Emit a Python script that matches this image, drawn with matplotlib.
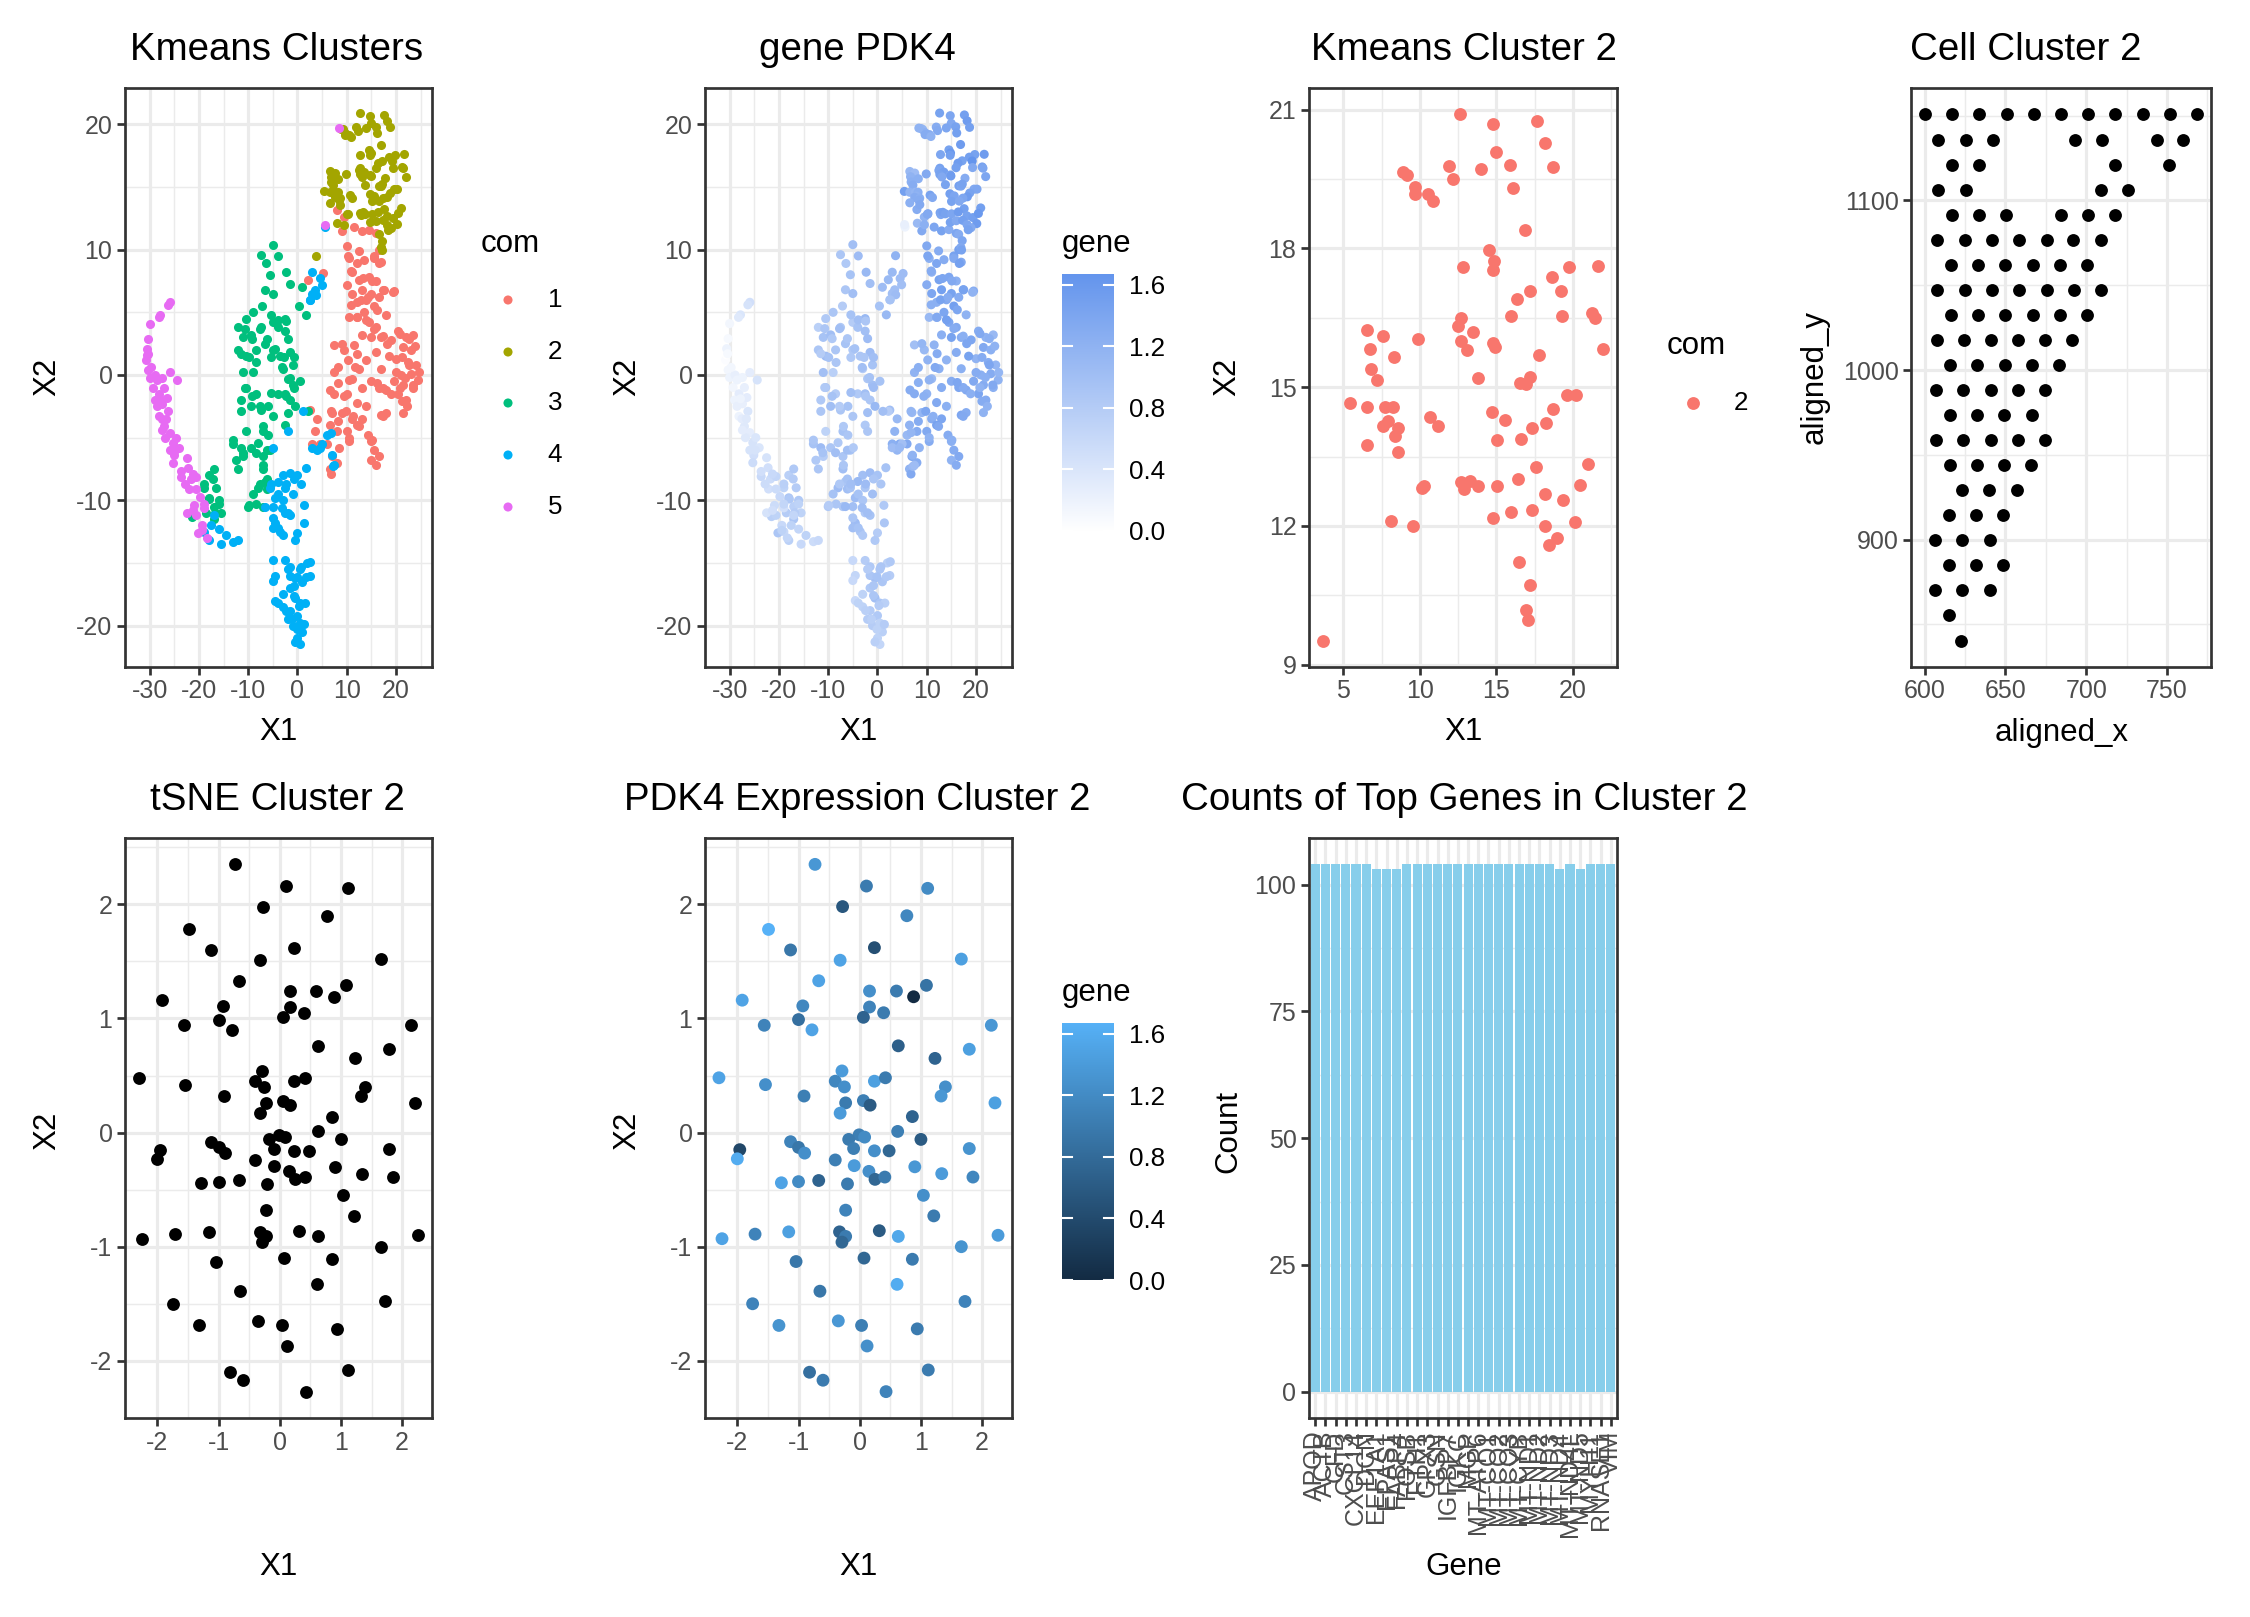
import numpy as np
import matplotlib
matplotlib.use("Agg")
import matplotlib.pyplot as plt
from matplotlib.colors import LinearSegmentedColormap

plt.rcParams['font.family'] = ['Liberation Sans', 'DejaVu Sans']
plt.rcParams['axes.unicode_minus'] = False

# ---- data: tSNE embedding, (X1, X2, PDK4) per kmeans cluster ----
c1 = [(8.0,13.2,1.3),(9.5,12.6,1.2),(9.0,11.5,1.35),(11.5,11.8,1.4),(13.0,11.5,1.45),(14.5,11.6,1.3),(16.0,11.3,1.4),
      (10.0,10.3,1.35),(10.5,9.3,1.25),(12.0,8.9,1.4),(13.5,9.2,1.3),(15.5,9.5,1.45),(17.0,9.0,1.35),(16.5,10.0,1.5),
      (11.0,8.2,1.2),(10.0,7.2,1.3),(12.5,7.6,1.45),(14.5,7.8,1.4),(16.0,7.5,1.25),(17.5,6.8,1.35),(19.5,6.7,1.3),
      (11.0,6.5,1.4),(13.0,6.8,1.5),(14.0,6.0,1.35),(15.0,6.5,1.45),(16.5,6.2,1.3),(12.0,5.8,1.25),(13.5,5.0,1.4),
      (15.5,5.5,1.5),(18.0,4.8,1.2),(10.5,4.6,1.1),(12.0,4.6,1.3),(14.5,4.2,1.4),(16.0,3.8,1.35),(13.0,3.2,1.25),
      (15.0,3.0,1.45),(17.0,3.0,1.3),(19.0,2.8,1.4),(11.5,2.4,1.2),(9.5,2.0,1.1),(7.5,2.4,1.0),
      (20.5,3.5,1.3),(22.0,3.0,1.2),(23.5,3.2,1.1),(21.5,2.2,1.35),(23.0,2.0,1.25),(20.0,1.3,1.2),(22.5,1.0,1.3),
      (24.0,0.8,1.15),(21.0,0.0,1.25),(23.0,0.1,1.3),(24.5,-0.4,1.2),(19.5,-0.5,1.35),(21.5,-0.8,1.3),(23.5,-1.0,1.25),
      (20.5,-1.5,1.4),(22.0,-2.0,1.3),(18.0,-1.2,1.35),(16.5,-1.0,1.4),(15.0,-0.5,1.3),(17.0,0.5,1.25),(18.5,1.5,1.45),
      (16.0,1.8,1.3),(14.0,1.2,1.2),(12.5,0.5,1.25),(11.0,-0.3,1.1),(13.0,-1.0,1.3),(10.0,-1.5,1.2),(12.0,-2.2,1.35),
      (14.0,-2.5,1.25),(17.0,-3.2,1.4),(18.0,-3.0,1.3),(21.5,-3.0,1.2),(9.0,-3.0,1.15),(7.0,-3.0,1.1),(11.0,-3.5,1.3),
      (13.0,-3.5,1.4),(6.5,-4.0,1.2),(8.0,-4.5,1.3),(10.0,-4.5,1.35),(12.0,-4.0,1.45),(4.0,-3.5,1.1),(3.5,-4.5,1.2),
      (2.5,-2.8,1.0),(4.5,-5.5,1.3),(3.0,-5.5,1.25),(6.0,-5.5,1.35),(8.5,-5.8,1.2),(10.5,-5.3,1.3),(7.0,-6.5,1.4),
      (8.0,-7.0,1.3),(6.5,-7.5,1.2),(6.8,-7.9,1.35),(15.0,-5.3,1.25),(15.5,-6.0,1.3),(16.5,-6.5,1.35),(15.0,-6.8,1.2),
      (16.0,-7.2,1.3),(2.2,7.6,1.1),(5.2,8.1,1.05),(7.5,0.2,1.2),(6.6,-1.2,1.3),(8.3,-0.6,1.25),
      (10.2,9.5,1.4),(12.4,9.9,1.3),(15.5,9.3,1.35),(16.6,8.9,1.5),(10.9,8.3,1.3),(13.2,7.7,1.4),(15.1,7.5,1.35),
      (17.4,6.8,1.45),(19.3,6.6,1.2),(10.9,5.6,1.25),(12.8,6.0,1.45),(14.3,6.2,1.3),(16.2,5.2,1.4),(12.1,4.6,1.35),
      (14.0,4.4,1.5),(15.5,3.7,1.3),(17.4,3.1,1.25),(18.1,2.5,1.4),(9.0,2.5,1.15),(12.1,1.7,1.3),(10.2,1.2,1.2),
      (8.3,0.6,1.25),(11.7,0.6,1.35),(10.5,-0.4,1.2),(7.5,-1.5,1.3),(9.4,-1.7,1.25),(6.8,-2.9,1.15),(8.3,-3.7,1.3),
      (9.8,-2.9,1.4),(11.3,-3.3,1.25),(12.4,-4.1,1.35),(10.5,-5.0,1.2),(14.3,-4.8,1.3),(15.1,-5.2,1.25),
      (20.8,3.3,1.35),(22.7,2.9,1.25),(23.8,2.3,1.2),(21.2,1.4,1.3),(22.7,0.8,1.4),(24.6,0.2,1.15),(20.0,0.2,1.3),
      (21.9,-0.2,1.25),(23.4,-0.8,1.35),(20.8,-1.0,1.2),(17.4,-1.0,1.3),(16.2,-0.6,1.4),(18.9,-1.5,1.25),
      (21.2,-2.1,1.3),(22.3,-2.5,1.2),(17.4,-3.3,1.35)]

c2 = [(12.61,20.90,1.45),(14.77,20.69,1.40),(17.64,20.75,1.50),(18.19,20.28,1.55),(14.97,20.08,1.35),
      (11.93,19.78,1.30),(15.88,19.80,1.45),(18.69,19.76,1.50),(8.87,19.66,1.20),(9.17,19.59,1.15),
      (13.97,19.71,1.40),(12.19,19.50,1.35),(16.08,19.31,1.50),(9.67,19.33,1.25),(9.67,19.18,1.30),
      (10.55,19.18,1.30),(10.85,19.03,1.20),(16.86,18.39,1.55),(14.50,17.96,1.45),(14.82,17.72,1.60),
      (14.75,17.53,1.50),(12.79,17.59,1.40),(19.75,17.59,1.45),(21.66,17.61,1.55),(18.64,17.38,1.50),
      (17.19,17.09,1.45),(19.22,17.07,1.67),(16.33,16.90,1.55),(12.66,16.50,1.45),(12.46,16.32,1.40),
      (15.95,16.54,1.50),(19.30,16.55,1.35),(21.26,16.60,1.45),(21.41,16.50,1.40),(6.56,16.24,1.10),
      (7.56,16.11,1.05),(9.90,16.04,1.35),(13.47,16.19,1.50),(12.66,16.00,1.45),(14.77,15.96,1.40),
      (14.90,15.88,1.55),(6.71,15.82,1.20),(13.07,15.80,1.35),(8.29,15.66,1.25),(17.76,15.70,1.30),
      (21.96,15.83,1.40),(6.83,15.40,1.25),(7.19,15.15,1.30),(13.79,15.19,1.45),(16.53,15.09,1.50),
      (16.96,15.07,1.40),(17.21,15.23,1.45),(19.60,14.83,1.35),(20.20,14.83,1.40),(5.45,14.65,1.50),
      (6.56,14.58,1.20),(7.69,14.58,1.15),(8.24,14.58,1.25),(7.89,14.28,1.20),(7.56,14.17,1.30),
      (8.57,14.11,1.25),(8.39,13.95,1.30),(8.59,13.59,1.35),(6.56,13.74,1.25),(10.68,14.35,1.45),
      (11.16,14.16,1.35),(14.70,14.46,1.50),(15.58,14.29,1.40),(18.72,14.52,1.45),(18.24,14.22,1.55),
      (17.34,14.11,1.40),(15.03,13.85,1.45),(16.61,13.87,1.35),(17.59,13.27,1.50),(20.95,13.33,1.50),
      (10.25,12.87,1.40),(10.13,12.82,1.35),(12.71,12.95,1.45),(12.86,12.80,1.40),(13.27,12.98,1.50),
      (13.77,12.86,1.45),(15.03,12.86,1.40),(16.41,13.01,1.55),(18.14,12.70,1.45),(19.37,12.56,1.50),
      (20.48,12.89,1.60),(8.09,12.11,1.10),(9.52,11.99,1.25),(14.77,12.18,1.45),(15.98,12.31,1.35),
      (17.29,12.34,1.50),(18.17,12.00,1.40),(20.15,12.08,1.55),(18.97,11.75,1.35),(18.42,11.59,1.45),
      (16.48,11.23,1.30),(17.19,10.72,1.40),(16.93,10.18,1.35),(17.06,9.97,1.45),(3.67,9.52,1.20)]

c3 = [(-7.5,9.6,0.9),(-5.0,10.4,1.0),(-3.9,9.5,1.05),(-6.4,8.9,0.85),(-5.5,8.0,0.95),(-2.3,8.2,1.1),(-1.5,7.3,1.0),
      (1.0,7.0,1.05),(-6.5,6.8,0.9),(-5.0,6.5,1.0),(0.4,5.5,0.95),(1.8,4.8,1.1),(-7.1,5.5,0.8),
      (-10.5,4.5,0.85),(-9.0,5.0,0.9),(-12.0,3.8,0.75),(-11.0,3.0,0.95),(-9.5,3.2,1.0),(-7.5,3.8,0.85),(-12.0,2.0,0.9),
      (-10.5,1.5,1.05),(-8.5,2.0,0.9),(-6.5,2.5,0.95),(-5.0,4.2,0.8),(-4.0,3.8,0.95),(-2.5,4.5,1.1),(-2.5,3.5,1.0),
      (-5.0,2.0,0.85),(-3.5,1.5,0.9),(-1.5,1.8,1.05),(-1.0,0.8,0.95),(-3.0,0.5,0.8),(-11.0,0.2,1.0),(-9.0,0.2,0.75),
      (-2.0,-0.3,0.9),(-1.0,-0.8,1.0),(0.5,-0.5,0.95),(-4.0,-1.5,0.85),(-2.5,-1.5,1.0),(-1.5,-2.0,0.9),(-0.5,-2.5,1.1),
      (-10.5,-1.0,0.9),(-8.5,-1.5,0.8),(-11.5,-2.0,0.85),(-9.5,-2.5,1.0),(-7.5,-2.8,0.9),(-6.0,-2.5,0.95),(-2.0,-3.0,1.0),
      (-2.5,-4.0,0.85),(-10.5,-4.5,0.7),(-7.0,-4.5,0.95),(-6.0,-4.8,0.9),(-13.0,-5.5,0.95),(-11.5,-5.8,1.05),(-9.5,-5.8,0.9),
      (-12.5,-6.8,0.85),(-11.0,-6.5,0.8),(-8.5,-6.2,1.0),(-7.0,-6.5,0.9),(-5.5,-6.0,0.95),(-12.0,-7.5,0.9),(-7.0,-7.5,1.0),
      (-6.5,-8.5,0.9),(-8.0,-9.0,1.05),(-9.0,-9.5,0.95),(-10.0,-10.5,0.85),(-7.0,-10.5,0.9),(2.2,-2.9,0.8),
      (-18.0,-8.0,0.75),(-17.0,-7.5,0.85),(-19.0,-9.0,0.7),(-16.5,-9.0,0.8),(-18.0,-9.8,0.9),(-17.0,-10.5,0.75),
      (-16.0,-10.0,0.85),(-15.5,-11.0,0.7),(-18.5,-11.0,0.8),(-17.0,-11.5,0.9),(-21.5,-11.3,0.75),
      (-10.7,3.7,0.9),(-9.2,2.9,0.85),(-7.7,3.7,1.0),(-6.1,2.9,0.9),(-4.6,2.1,0.95),(-5.4,1.4,0.85),(-11.5,1.7,0.8),
      (-9.9,1.4,0.95),(-8.4,1.0,0.9),(-3.1,0.6,1.0),(-1.6,-0.2,0.95),(-0.8,-1.0,1.05),(-2.4,-1.7,0.9),(-10.7,-1.0,0.85),
      (-9.2,-1.7,0.95),(-7.7,-2.5,0.8),(-11.5,-2.9,0.9),(-5.4,-1.4,1.0),(-5.0,-3.3,0.9),(-6.9,-4.1,0.85),
      (-13.0,-5.2,0.9),(-11.1,-6.2,0.95),(-8.0,-5.4,0.85),(-6.1,-6.0,1.0),(-6.9,-7.2,0.9),(-6.1,-8.3,0.95),
      (-7.7,-8.7,0.85),(-8.4,-10.3,0.9),(-9.9,-10.4,0.8),(-6.1,-9.1,1.0),(-5.4,4.8,0.95),(-3.9,4.4,1.0),
      (-2.4,4.3,0.9),(-2.0,2.9,1.05),(-2.7,1.4,0.9),(-0.8,1.4,1.0),
      (-19.0,-8.7,0.75),(-17.1,-8.3,0.8),(-17.9,-9.9,0.85),(-16.0,-10.3,0.7),(-16.8,-11.0,0.8)]

c4 = [(3.0,8.2,1.1),(3.5,6.8,1.0),(4.6,7.7,1.05),(2.5,6.0,0.95),(3.0,6.5,1.0),(5.6,11.8,0.2),
      (1.1,-2.9,1.0),(-2.0,-4.5,0.9),(-4.9,-5.8,0.85),
      (6.0,-4.8,1.1),(5.0,-5.5,1.0),(4.0,-6.0,1.15),(3.0,-5.8,1.05),(7.1,-6.4,1.2),(7.2,-7.3,1.1),
      (1.7,-7.4,0.95),(0.7,-8.7,0.9),(1.3,-10.4,0.85),(1.4,-11.8,0.9),(0.0,-12.6,0.8),(-0.5,-13.2,0.85),
      (-3.0,-8.0,1.0),(-1.5,-7.8,1.05),(0.0,-8.0,0.95),(-4.0,-8.5,1.1),(-2.5,-9.0,0.9),(-1.0,-9.5,1.0),(-5.5,-9.0,0.95),
      (-4.5,-9.8,1.05),(-3.0,-10.0,0.9),(-5.0,-10.5,1.0),(-2.5,-11.0,0.85),(-1.5,-11.2,0.95),(-4.5,-11.8,1.05),
      (-3.5,-12.5,0.9),(-5.0,-12.2,1.0),(-3.0,-12.8,0.85),(-6.5,-10.5,1.1),
      (-5.0,-14.8,0.6),(-4.5,-16.0,0.65),(-2.5,-14.8,0.8),(-1.5,-15.3,0.85),(0.5,-15.5,0.9),(2.0,-15.0,0.75),
      (2.5,-16.0,0.8),(-0.5,-16.2,1.0),(1.0,-16.5,0.9),(-1.5,-17.0,0.85),(-3.0,-17.5,0.7),(-0.5,-17.8,1.0),
      (0.5,-18.2,0.9),(-4.5,-18.0,0.6),(-3.0,-18.5,0.7),(-1.5,-18.8,0.8),(0.0,-19.2,0.85),(1.5,-18.2,0.75),
      (-1.0,-20.0,0.8),(0.5,-19.8,0.7),(1.0,-20.5,0.75),(0.0,-21.0,0.7),(0.5,-21.5,0.65),(-0.5,-21.3,0.75),
      (-2.0,-19.5,0.8),(-1.5,-16.0,0.9),
      (-19.0,-12.5,0.6),(-17.5,-12.0,0.7),(-16.0,-12.3,0.65),(-18.0,-13.2,0.75),(-15.5,-13.5,0.6),(-13.0,-13.3,0.55),
      (-12.0,-13.2,0.6),(-14.5,-12.8,0.7),(-17.0,-11.2,0.65),
      (-5.4,-8.7,1.0),(-3.9,-9.5,0.95),(-2.4,-8.7,1.05),(-0.8,-8.3,0.9),(-3.1,-10.6,1.0),(-5.0,-11.4,0.9),
      (-3.9,-12.2,0.95),(-2.0,-11.0,1.0),(-5.0,-16.4,0.6),(-3.9,-18.2,0.7),(-2.4,-18.8,0.75),(-0.8,-17.6,0.9),
      (0.3,-18.4,0.8),(-1.2,-19.5,0.75),(-0.1,-20.3,0.7),(1.4,-19.9,0.8),(0.7,-15.3,0.9),(2.6,-14.9,0.85),
      (-2.0,-15.5,0.8),(-0.1,-16.1,0.95),(1.8,-16.1,0.85),(-0.8,-16.8,0.9),
      (4.9,7.2,1.0),(3.7,6.4,1.05),(2.6,6.0,0.95),(4.5,-5.8,1.1),(6.8,-4.6,1.15),(7.5,-7.2,1.05)]

c5 = [(-25.9,5.8,0.5),(-26.3,5.6,0.45),(-27.8,4.8,0.4),(-28.2,4.6,0.35),(-30.0,4.1,0.15),(-30.3,2.9,0.1),(-30.6,2.1,0.2),
      (-30.8,1.2,0.05),(-30.6,1.6,0.0),(-30.3,0.4,0.15),(-30.0,-0.2,0.2),(-28.9,0.0,0.25),(-27.4,-0.2,0.2),(-25.9,0.2,0.3),
      (-24.4,-0.4,0.45),(-29.3,-1.0,0.15),(-28.1,-1.5,0.3),(-27.4,-2.3,0.25),(-26.3,-2.9,0.4),(-28.1,-3.3,0.2),
      (-27.0,-4.1,0.35),(-25.9,-4.6,0.3),(-25.3,-5.4,0.45),(-24.0,-5.8,0.4),(-25.1,-6.4,0.5),(-25.3,-7.0,0.55),
      (-22.5,-6.6,0.45),(-22.2,-7.4,0.5),(-23.6,-8.1,0.6),(-21.7,-8.3,0.55),(-20.6,-8.1,0.65),(-22.1,-9.1,0.5),
      (-19.8,-9.7,0.6),(-20.9,-10.4,0.55),(-22.5,-11.0,0.45),(-20.6,-11.2,0.7),(-19.0,-10.6,0.5),(-20.2,-12.6,0.9),
      (-18.3,-13.0,0.65),(-19.4,-12.0,0.6),(-29.0,-2.0,0.2),(-28.5,-2.5,0.25),(-26.5,-1.8,0.3),(-27.5,-3.5,0.3),
      (-26.8,-5.0,0.35),(-24.8,-6.0,0.45),
      (-30.4,1.7,0.1),(-29.7,0.6,0.15),(-28.5,-0.4,0.2),(-27.0,-1.0,0.25),(-27.8,-1.9,0.2),(-26.6,-3.5,0.35),
      (-27.4,-4.4,0.3),(-24.7,-5.0,0.4),(-25.9,-6.0,0.45),(-23.6,-7.7,0.5),(-22.8,-8.7,0.55),(-21.3,-7.9,0.6),
      (-20.6,-9.1,0.55),(-19.0,-10.3,0.65),(-21.3,-10.8,0.5),(-19.4,-12.4,0.7),
      (5.5,12.0,0.25),(8.4,19.7,1.2)]

clusters = [c1, c2, c3, c4, c5]
com_labels = ['1', '2', '3', '4', '5']
hue = ['#F8766D', '#A3A500', '#00BF7D', '#00B0F6', '#E76BF3']

# ---- data: cluster 2 sub-tSNE (X1, X2, PDK4) ----
t2 = [(-0.73,2.35,1.35),(0.11,2.16,1.0),(1.11,2.14,1.2),(-0.28,1.98,0.55),(0.77,1.90,1.15),(-1.49,1.78,1.67),
      (0.24,1.62,0.45),(-1.13,1.60,0.95),(-0.32,1.51,1.5),(1.66,1.52,1.45),(-0.67,1.33,1.5),(1.09,1.29,0.9),
      (0.16,1.24,1.25),(0.60,1.24,1.0),(0.88,1.19,0.0),(-1.92,1.16,1.5),(-0.93,1.11,1.15),(0.16,1.10,1.1),
      (0.39,1.05,1.0),(-1.00,0.99,0.85),(0.06,1.01,0.7),(-1.56,0.94,1.1),(-0.78,0.90,1.5),(2.15,0.94,1.35),
      (0.63,0.76,0.65),(1.79,0.73,1.45),(1.23,0.65,0.7),(-2.30,0.48,1.5),(-0.29,0.54,1.4),(-0.40,0.45,1.15),
      (-0.25,0.40,1.25),(0.24,0.45,1.45),(0.42,0.48,1.0),(-1.54,0.42,1.25),(1.40,0.40,1.25),(-0.91,0.32,1.05),
      (1.33,0.32,1.35),(-0.23,0.26,1.0),(0.06,0.28,1.05),(0.17,0.24,0.6),(2.21,0.26,1.45),(-0.32,0.17,1.4),
      (0.86,0.14,0.7),(0.62,0.01,1.05),(-0.01,-0.02,1.05),(0.08,-0.04,1.2),(-0.18,-0.06,1.0),(-1.13,-0.08,1.1),
      (1.00,-0.06,0.6),(-1.96,-0.15,0.35),(-2.00,-0.23,1.6),(-0.10,-0.14,1.05),(-1.00,-0.13,0.95),(-0.90,-0.18,1.25),
      (0.24,-0.16,1.25),(0.48,-0.16,0.75),(1.79,-0.14,1.3),(-0.40,-0.24,1.05),(-0.09,-0.29,1.4),(0.90,-0.30,1.35),
      (0.15,-0.34,1.25),(1.34,-0.36,1.4),(0.25,-0.41,0.75),(0.41,-0.39,1.0),(1.85,-0.39,1.15),(-1.28,-0.44,1.5),
      (-1.00,-0.43,1.2),(-0.67,-0.42,0.7),(-0.20,-0.45,1.0),(1.04,-0.55,1.25),(-0.23,-0.68,1.1),(1.21,-0.73,1.0),
      (-1.16,-0.87,1.45),(-0.33,-0.87,0.7),(-0.23,-0.91,1.0),(0.32,-0.86,0.6),(-1.71,-0.89,1.1),(-2.25,-0.93,1.5),
      (-0.29,-0.96,0.75),(0.63,-0.91,1.55),(2.26,-0.90,1.4),(1.66,-1.00,1.3),(-1.04,-1.13,0.95),(0.07,-1.10,0.75),
      (0.86,-1.11,1.0),(-0.65,-1.39,0.95),(0.61,-1.33,1.6),(-1.75,-1.50,1.1),(1.72,-1.48,1.1),(-1.32,-1.69,1.3),
      (-0.35,-1.65,1.35),(0.03,-1.69,1.05),(0.94,-1.72,1.0),(0.12,-1.87,1.25),(-0.82,-2.10,0.85),(-0.60,-2.17,1.0),
      (1.12,-2.08,1.0),(0.43,-2.27,1.1)]

# ---- data: spatial positions of cluster 2 cells (aligned_y, [aligned_x ...]) ----
cell_rows = [(1150.8, [600.0, 616.9, 633.8, 650.7, 667.6, 684.5, 701.2, 718.1, 735.0, 751.9, 768.8]),
             (1135.5, [608.2, 625.4, 642.3, 693.0, 709.9, 743.7, 759.8]),
             (1120.7, [616.9, 633.8, 718.1, 751.5]),
             (1106.2, [608.2, 625.4, 709.1, 726.0]),
             (1091.5, [616.9, 633.8, 650.3, 684.1, 701.0, 717.9]),
             (1076.7, [607.8, 624.7, 641.6, 658.5, 675.5, 692.0, 709.1]),
             (1062.0, [616.1, 633.0, 649.9, 666.8, 683.7, 700.6]),
             (1047.0, [607.8, 624.7, 641.6, 658.5, 675.5, 692.2, 709.1]),
             (1032.2, [616.1, 633.0, 649.9, 666.8, 683.7, 700.6]),
             (1017.7, [607.8, 624.3, 641.2, 657.7, 674.6, 691.5]),
             (1003.0, [615.7, 632.6, 649.5, 666.4, 683.3]),
             (988.2, [607.2, 623.9, 640.8, 657.7, 674.6]),
             (973.5, [615.5, 632.4, 649.3, 666.2]),
             (958.7, [607.2, 623.9, 640.8, 657.7, 674.6]),
             (944.0, [615.5, 632.4, 649.3, 665.8]),
             (929.2, [623.3, 639.8, 656.9]),
             (914.5, [614.9, 631.8, 648.7]),
             (899.7, [606.4, 623.3, 640.2]),
             (885.2, [614.9, 631.8, 648.7]),
             (870.5, [606.4, 623.3, 640.2]),
             (855.7, [614.9]),
             (840.4, [622.5])]

# ---- data: top genes in cluster 2 ----
genes = ['APOD', 'ACTB', 'CFD', 'CST3', 'CXCL14', 'DCN', 'EEF1A1', 'EPAS1', 'FABP4', 'FOSB',
         'FTH1', 'GPX3', 'GSN', 'IGFBP7', 'IGKC', 'MGP', 'MT-ATP6', 'MT-CO1', 'MT-CO2', 'MT-CO3',
         'MT-CYB', 'MT-ND1', 'MT-ND2', 'MT-ND3', 'MT-ND4', 'MT-ND4L', 'MT-ND5', 'MYH11', 'RNASE1', 'VIM']
counts = [104, 104, 104, 104, 104, 104, 103, 103, 103, 104, 104, 104, 104, 104, 104,
          104, 104, 104, 104, 104, 104, 104, 104, 104, 103, 104, 103, 104, 104, 104]

W, H = 2250, 1617
fig = plt.figure(figsize=(W / 150, H / 150), dpi=150)
fig.patch.set_facecolor('white')

TITLE, AXT, TICK, LGT, LGX = 18.5, 15, 12, 15, 12.5
S_BIG, S_SMALL = 38, 19


def box(x0, y0, x1, y1):
    return [x0 / W, 1 - y1 / H, (x1 - x0) / W, (y1 - y0) / H]


def ftext(x, y, s, **kw):
    kw.setdefault('ha', 'center')
    kw.setdefault('va', 'center')
    fig.text(x / W, 1 - y / H, s, **kw)


def bw(ax, xmaj=None, ymaj=None, xmin=None, ymin=None):
    if xmaj is not None:
        ax.set_xticks(xmaj)
    if ymaj is not None:
        ax.set_yticks(ymaj)
    if xmin is not None:
        ax.set_xticks(xmin, minor=True)
    if ymin is not None:
        ax.set_yticks(ymin, minor=True)
    ax.grid(which='major', color='#EBEBEB', lw=1.5)
    ax.grid(which='minor', color='#EBEBEB', lw=0.7)
    ax.set_axisbelow(True)
    for s in ax.spines.values():
        s.set_color('#333333')
        s.set_linewidth(1.3)
    ax.tick_params(which='major', length=4, width=1.3, color='#333333',
                   labelcolor='#4D4D4D', labelsize=TICK, pad=2)
    ax.tick_params(which='minor', length=0)


def unpack(pts):
    a = np.array(pts)
    return a[:, 0], a[:, 1], a[:, 2]


def colorbar(y0, y1, cmap, vmax):
    cax = fig.add_axes(box(1062, y0, 1114, y1))
    grad = np.linspace(0, vmax, 256).reshape(-1, 1)
    cax.imshow(grad, aspect='auto', cmap=cmap, origin='lower',
               extent=[0, 1, 0, vmax], vmin=0, vmax=vmax)
    ticks = [0.0, 0.4, 0.8, 1.2, 1.6]
    for t in ticks:
        cax.plot([0, 0.2], [t, t], color='white', lw=1)
        cax.plot([0.8, 1], [t, t], color='white', lw=1)
    cax.set_xlim(0, 1)
    cax.set_ylim(0, vmax)
    cax.set_xticks([])
    cax.yaxis.tick_right()
    cax.set_yticks(ticks)
    cax.set_yticklabels(['%.1f' % t for t in ticks])
    cax.tick_params(length=0, labelsize=LGX, labelcolor='black', pad=7)
    for s in cax.spines.values():
        s.set_visible(False)


xt1 = [-30, -20, -10, 0, 10, 20]
xm1 = [-35, -25, -15, -5, 5, 15, 25]
yt1 = [-20, -10, 0, 10, 20]
ym1 = [-15, -5, 5, 15]

# Panel 1: Kmeans clusters
ax1 = fig.add_axes(box(125, 88, 432, 667))
for pts, col in zip(clusters, hue):
    x, y, g = unpack(pts)
    ax1.scatter(x, y, s=S_SMALL, color=col, linewidths=0, zorder=3)
ax1.set_xlim(-33.8, 27.3)
ax1.set_ylim(-23.3, 22.9)
bw(ax1, xt1, yt1, xm1, ym1)

# Panel 2: gene PDK4 over full embedding
allp = c1 + c2 + c3 + c4 + c5
xa, ya, ga = unpack(allp)
cm_white = LinearSegmentedColormap.from_list('wb', ['#FFFFFF', '#6495ED'])
gmax = ga.max()
ax2 = fig.add_axes(box(705, 88, 1012, 667))
ax2.scatter(xa, ya, c=ga, cmap=cm_white, vmin=0, vmax=gmax, s=S_SMALL, linewidths=0, zorder=3)
ax2.set_xlim(-33.8, 27.3)
ax2.set_ylim(-23.3, 22.9)
bw(ax2, xt1, yt1, xm1, ym1)
colorbar(274, 531, cm_white, gmax)

# Panel 3: Kmeans cluster 2
x2, y2, _ = unpack(c2)
ax3 = fig.add_axes(box(1309, 88, 1617, 667))
ax3.scatter(x2, y2, s=S_BIG, color=hue[0], linewidths=0, zorder=3)
bw(ax3, [5, 10, 15, 20], [9, 12, 15, 18, 21], [2.5, 7.5, 12.5, 17.5, 22.5], [10.5, 13.5, 16.5, 19.5])
ax3.margins(0.05)

# Panel 4: spatial cell positions
cx = [v for yy, row in cell_rows for v in row]
cy = [yy for yy, row in cell_rows for v in row]
ax4 = fig.add_axes(box(1911, 88, 2211, 667))
ax4.scatter(cx, cy, s=S_BIG, color='black', linewidths=0, zorder=3)
bw(ax4, [600, 650, 700, 750], [900, 1000, 1100], [625, 675, 725, 775], [850, 950, 1050, 1150])
ax4.margins(0.05)

# Panel 5 / 6: cluster 2 sub-tSNE
xt, yt, gt = unpack(t2)
ax5 = fig.add_axes(box(125, 838, 432, 1418))
ax5.scatter(xt, yt, s=S_BIG, color='black', linewidths=0, zorder=3)
bw(ax5, [-2, -1, 0, 1, 2], [-2, -1, 0, 1, 2], [-1.5, -0.5, 0.5, 1.5], [-1.5, -0.5, 0.5, 1.5, 2.5])
ax5.margins(0.05)

cm_blue = LinearSegmentedColormap.from_list('gg', ['#132B43', '#56B1F7'])
ax6 = fig.add_axes(box(705, 838, 1012, 1418))
ax6.scatter(xt, yt, c=gt, cmap=cm_blue, vmin=0, vmax=gt.max(), s=S_BIG, linewidths=0, zorder=3)
bw(ax6, [-2, -1, 0, 1, 2], [-2, -1, 0, 1, 2], [-1.5, -0.5, 0.5, 1.5], [-1.5, -0.5, 0.5, 1.5, 2.5])
ax6.margins(0.05)
colorbar(1023, 1280, cm_blue, gt.max())

# Panel 7: bar counts
ax7 = fig.add_axes(box(1309, 838, 1617, 1418))
pos = np.arange(len(genes))
ax7.bar(pos, counts, width=0.9, color='#87CEEB', zorder=3)
ax7.set_xlim(-0.6, len(genes) - 0.4)
ax7.set_ylim(-5.2, 109.2)
bw(ax7, pos, [0, 25, 50, 75, 100], None, [12.5, 37.5, 62.5, 87.5])
ax7.set_xticklabels(genes, rotation=90, ha='center', va='top')

# titles and axis titles
for cxp, cyp, s in [(277, 50, 'Kmeans Clusters'), (857, 50, 'gene PDK4'),
                    (1464, 50, 'Kmeans Cluster 2'), (2026, 50, 'Cell Cluster 2'),
                    (277, 800, 'tSNE Cluster 2'), (857, 800, 'PDK4 Expression Cluster 2'),
                    (1464, 800, 'Counts of Top Genes in Cluster 2')]:
    ftext(cxp, cyp, s, fontsize=TITLE)

for cxp, cyp, s in [(278, 732, 'X1'), (858, 732, 'X1'), (1463, 732, 'X1'), (2062, 733, 'aligned_x'),
                    (278, 1567, 'X1'), (858, 1567, 'X1'), (1464, 1567, 'Gene')]:
    ftext(cxp, cyp, s, fontsize=AXT)

for cxp, cyp, s in [(47, 377, 'X2'), (627, 377, 'X2'), (1227, 377, 'X2'), (1815, 377, 'aligned_y'),
                    (47, 1131, 'X2'), (627, 1131, 'X2'), (1228, 1131, 'Count')]:
    ftext(cxp, cyp, s, fontsize=AXT, rotation=90)

# legends
ftext(481, 244, 'com', fontsize=LGT, ha='left')
ftext(1062, 244, 'gene', fontsize=LGT, ha='left')
ftext(1062, 993, 'gene', fontsize=LGT, ha='left')
ftext(1667, 346, 'com', fontsize=LGT, ha='left')

lg = fig.add_axes([0, 0, 1, 1])
lg.set_xlim(0, W)
lg.set_ylim(H, 0)
lg.axis('off')
key_y = [300, 352, 403, 455, 507]
lg.scatter([508] * 5, key_y, s=S_SMALL, c=hue, linewidths=0)
for ky, lab in zip(key_y, com_labels):
    ftext(555, ky, lab, fontsize=LGX)
lg.scatter([1693], [403], s=S_BIG, c=hue[0], linewidths=0)
ftext(1741, 403, '2', fontsize=LGX)

fig.savefig('out.png', dpi=150, facecolor='white')
